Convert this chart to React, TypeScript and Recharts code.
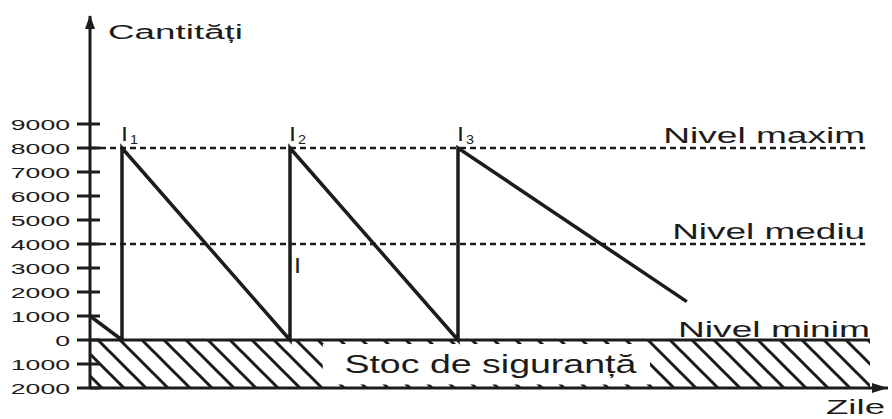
import React from 'react';
import {
  ComposedChart,
  Line,
  XAxis,
  YAxis,
  ReferenceLine,
  ReferenceArea,
  ReferenceDot,
} from 'recharts';

document.body.style.margin = '0';

const INK = '#1c1c1c';
const FONT = '"Liberation Sans", Arial, Helvetica, sans-serif';

// sawtooth stock curve (days / units)
const days = [0, 4, 4, 25, 25, 46, 46, 74.6];
const stock = [1000, 0, 8000, 0, 8000, 0, 8000, 1600];

const yTicks = [-2000, -1000, 0, 1000, 2000, 3000, 4000, 5000, 6000, 7000, 8000, 9000];

// dashed levels
const levelValues = [8000, 4000];
const levelLabels = ['Nivel maxim', 'Nivel mediu'];
const levelWidths = [202, 193];

const peakDays = [4, 25, 46];
const peakIndex = ['1', '2', '3'];

const data = days.map((d, i) => ({ day: d, stock: stock[i] }));

// text stretched to a fixed width, like the original drawing
const WideText = ({ x, y, size, width, anchor = 'start', children }: any) => (
  <text
    x={x}
    y={y}
    fontSize={size}
    fontFamily={FONT}
    fill={INK}
    textAnchor={anchor}
    textLength={width}
    lengthAdjust="spacingAndGlyphs"
  >
    {children}
  </text>
);

const YTick = ({ x, y, payload }: any) => {
  const label = String(Math.abs(payload.value));
  return (
    <g>
      <line x1={x - 13} x2={x + 10} y1={y} y2={y} stroke={INK} strokeWidth={3} />
      <WideText x={x - 20} y={y + 6} size={15.5} width={label.length * 14.8} anchor="end">
        {label}
      </WideText>
    </g>
  );
};

const yAxisLabel = ({ viewBox }: any) => {
  const ax = viewBox.x + viewBox.width;
  const top = viewBox.y;
  return (
    <g>
      <polygon points={`${ax},${top - 1} ${ax - 5},${top + 13} ${ax + 5},${top + 13}`} fill={INK} />
      <WideText x={ax + 18} y={top + 23} size={20} width={135}>
        Cantități
      </WideText>
    </g>
  );
};

const xAxisLabel = ({ viewBox }: any) => {
  const right = viewBox.x + viewBox.width;
  const ay = viewBox.y;
  return (
    <g>
      <polygon points={`${right},${ay} ${right - 16},${ay - 5} ${right - 16},${ay + 5}`} fill={INK} />
      <WideText x={right - 3} y={ay + 26} size={21} width={59} anchor="end">
        Zile
      </WideText>
    </g>
  );
};

const levelLabel = (text: string, width: number, lift: number) => ({ viewBox }: any) => (
  <WideText x={viewBox.x + viewBox.width} y={viewBox.y - lift} size={22} width={width} anchor="end">
    {text}
  </WideText>
);

const safetyLabel = ({ viewBox }: any) => (
  <WideText x={viewBox.x + viewBox.width / 2 + 4} y={viewBox.y + viewBox.height / 2 + 9} size={26} width={292} anchor="middle">
    Stoc de siguranță
  </WideText>
);

const peakShape = (n: string) => ({ cx, cy }: any) => (
  <g>
    <text x={cx - 1} y={cy - 7} fontSize={21} fontFamily={FONT} fill={INK} textLength={7} lengthAdjust="spacingAndGlyphs">
      I
    </text>
    <text x={cx + 8} y={cy - 4} fontSize={13} fontFamily={FONT} fill={INK} textLength={8} lengthAdjust="spacingAndGlyphs">
      {n}
    </text>
  </g>
);

const midShape = ({ cx, cy }: any) => (
  <text x={cx + 4} y={cy + 29} fontSize={22} fontFamily={FONT} fill={INK} textLength={7} lengthAdjust="spacingAndGlyphs">
    I
  </text>
);

export default function App() {
  return (
    <div style={{ width: 892, height: 419, background: '#fff' }}>
      <svg width={0} height={0} style={{ position: 'absolute' }}>
        <defs>
          <pattern id="hatch" patternUnits="userSpaceOnUse" width={22} height={22}>
            <path d="M-5,-5 L27,27 M-5,17 L5,27 M17,-5 L27,5" stroke={INK} strokeWidth={3} />
          </pattern>
        </defs>
      </svg>
      <ComposedChart width={892} height={419} data={data} margin={{ top: 16, right: 4, bottom: 0, left: 0 }}>
        <XAxis
          type="number"
          dataKey="day"
          domain={[0, 99.75]}
          ticks={[]}
          tick={false}
          tickLine={false}
          height={31}
          axisLine={{ stroke: INK, strokeWidth: 3 }}
          label={{ content: xAxisLabel }}
        />
        <YAxis
          type="number"
          domain={[-2000, 13500]}
          ticks={yTicks}
          interval={0}
          width={90}
          tick={<YTick />}
          tickLine={false}
          tickSize={0}
          tickMargin={0}
          axisLine={{ stroke: INK, strokeWidth: 3 }}
          label={{ content: yAxisLabel }}
        />
        <ReferenceArea x1={0} x2={97.5} y1={-2000} y2={0} fill="url(#hatch)" fillOpacity={1} stroke="none" />
        <ReferenceArea
          x1={29.1}
          x2={70}
          y1={-1850}
          y2={-170}
          fill="#fff"
          fillOpacity={1}
          stroke="none"
          label={{ content: safetyLabel }}
        />
        <ReferenceLine
          segment={[{ x: 0, y: 0 }, { x: 97.5, y: 0 }]}
          stroke={INK}
          strokeWidth={3}
          label={{ content: levelLabel('Nivel minim', 192, 3) }}
        />
        {levelValues.map((v, i) => (
          <ReferenceLine
            key={v}
            segment={[{ x: 0, y: v }, { x: 96.9, y: v }]}
            stroke={INK}
            strokeWidth={2.5}
            strokeDasharray="6 4"
            label={{ content: levelLabel(levelLabels[i], levelWidths[i], 5) }}
          />
        ))}
        <Line
          type="linear"
          dataKey="stock"
          stroke={INK}
          strokeWidth={3.5}
          dot={false}
          isAnimationActive={false}
        />
        {peakDays.map((d, i) => (
          <ReferenceDot key={d} x={d} y={8000} r={1} shape={peakShape(peakIndex[i])} />
        ))}
        <ReferenceDot x={peakDays[1]} y={levelValues[1]} r={1} shape={midShape} />
      </ComposedChart>
    </div>
  );
}
